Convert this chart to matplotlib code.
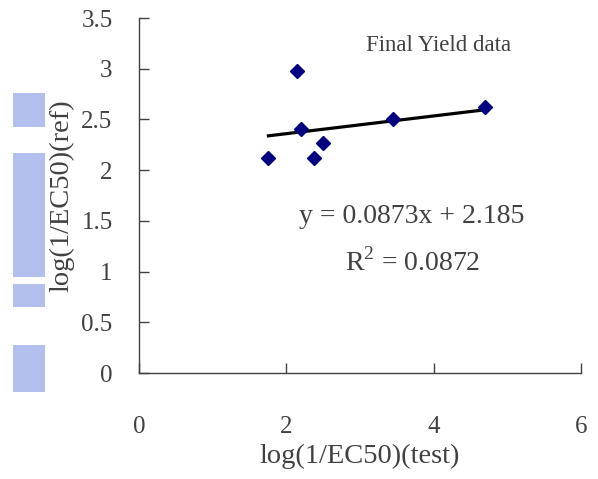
import matplotlib
matplotlib.use("Agg")
import matplotlib.pyplot as plt
from matplotlib.patches import Rectangle
import numpy as np

x_test = [1.757, 2.143, 2.197, 2.382, 2.496, 3.442, 4.701]
y_ref = [2.123, 2.978, 2.403, 2.123, 2.265, 2.502, 2.620]
slope = 0.0873
intercept = 2.185
eq_text = "y = 0.0873x + 2.185"
r2_text = "R$^2$ = 0.0872"
title_text = "Final Yield data"
xlabel = "log(1/EC50)(test)"
ylabel = "log(1/EC50)(ref)"
x_ticks = [0, 2, 4, 6]
y_ticks = [0, 0.5, 1, 1.5, 2, 2.5, 3, 3.5]

plt.rcParams['font.family'] = ['Liberation Serif', 'DejaVu Serif']
plt.rcParams['mathtext.fontset'] = 'custom'
plt.rcParams['mathtext.rm'] = 'Liberation Serif'
gray = '#404040'

W, H = 598, 479
fig = plt.figure(figsize=(W/100, H/100), dpi=100)

# faint watermark fragments on the left edge
wm = '#a6b5ec'
for (x0, y0, x1, y1) in [(13, 93, 45, 127), (13, 153, 45, 277),
                         (13, 284, 45, 307), (13, 345, 45, 392)]:
    fig.patches.append(Rectangle((x0/W, 1-y1/H), (x1-x0)/W, (y1-y0)/H,
                                 transform=fig.transFigure, color=wm,
                                 lw=0, alpha=0.85, zorder=0))

ax = fig.add_axes([139/W, 1-373/H, (581-139)/W, (373-18)/H])
ax.patch.set_alpha(0)

ax.plot(x_test, y_ref, linestyle='none', marker='D', markersize=7.5,
        color='#000080', zorder=3)
xl = np.array([min(x_test), max(x_test)])
ax.plot(xl, slope*xl + intercept, color='black', lw=2.3, zorder=2)

ax.set_xlim(0, 6)
ax.set_ylim(0, 3.5)
ax.set_xticks(x_ticks)
ax.set_yticks(y_ticks)
ax.set_xticklabels([str(t) for t in x_ticks])
ax.set_yticklabels([('%g' % t) for t in y_ticks])
for s in ['top', 'right']:
    ax.spines[s].set_visible(False)
for s in ['left', 'bottom']:
    ax.spines[s].set_color(gray)
    ax.spines[s].set_linewidth(1.0)
ax.tick_params(axis='x', direction='in', length=7, width=1, color=gray,
               labelcolor=gray, labelsize=18, pad=31)
ax.tick_params(axis='y', direction='in', length=7, width=1, color=gray,
               labelcolor=gray, labelsize=18, pad=19)

ax.set_xlabel(xlabel, fontsize=20.5, color=gray, labelpad=0)
ax.xaxis.set_label_coords(0.5, -(444-373)/355)
ax.set_ylabel(ylabel, fontsize=20.5, color=gray)
ax.yaxis.set_label_coords(-(139-74)/442, 0.5)

ax.text(4.07, 3.23, title_text, fontsize=16.5, color=gray, ha='center', va='center')
ax.text(3.7, 1.54, eq_text, fontsize=20, color=gray, ha='center', va='center')
ax.text(3.72, 1.09, r2_text, fontsize=20, color=gray, ha='center', va='center')

fig.savefig('out.png', dpi=100)
